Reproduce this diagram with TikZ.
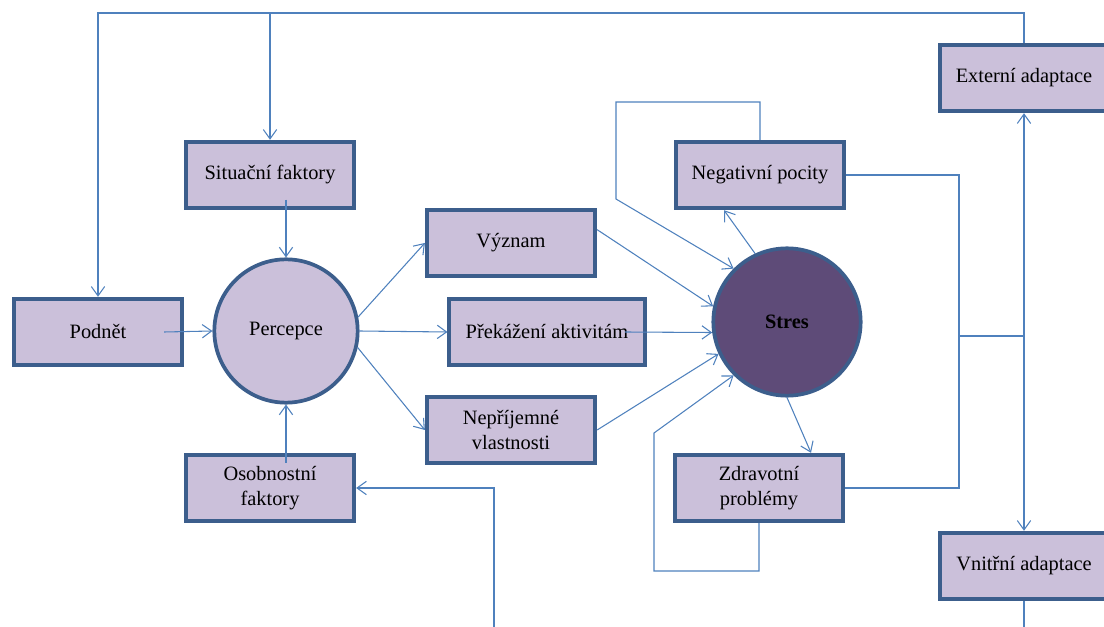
\documentclass[tikz,border=0pt]{standalone}
\usepackage{fontspec}
\setmainfont{Liberation Serif}
\usetikzlibrary{
    arrows.meta,
    calc,
    positioning
}
\definecolor{boxfill}{HTML}{CBC0DA}
\definecolor{boxline}{HTML}{3C5E8C}
\definecolor{conn}{HTML}{4F81BD}
\definecolor{stresfill}{HTML}{5E4B78}

\begin{document}
\begin{tikzpicture}[x=0.75pt, y=-0.75pt,
    >={Straight Barb[length=7pt,width=10pt]},
    box/.style={draw=boxline, line width=2.8pt, fill=boxfill,
        minimum width=126.4pt, minimum height=50pt, align=center,
        font=\fontsize{15.3}{18.8}\selectfont},
    kruh/.style={circle, draw=boxline, line width=2.8pt, fill=boxfill,
        minimum size=107.5pt, font=\fontsize{15.3}{18.8}\selectfont},
    spoj/.style={draw=conn, line width=0.8pt}]
    \useasboundingbox (0,0) rectangle (1104,627);

    % uzly
    \node[box] (podnet) at (98,332) {Podnět};
    \node[kruh] (perc) at (286,331) {Percepce};
    \node[box] (sit) at (270,175) {Situační faktory};
    \node[box] (osob) at (270,488) {Osobnostní\\faktory};
    \node[box] (vyz) at (511,243) {Význam};
    \node[box, minimum width=146.5pt] (prek) at (547,332) {Překážení aktivitám};
    \node[box] (nepr) at (511,430) {Nepříjemné\\vlastnosti};
    \node[kruh, fill=stresfill, minimum size=110.5pt,
        font=\fontsize{15.3}{18.8}\selectfont\bfseries] (stres) at (787,322) {Stres};
    \node[box] (neg) at (760,175) {Negativní pocity};
    \node[box] (zdrav) at (759,488) {Zdravotní\\problémy};
    \node[box] (ext) at (1024,78) {Externí adaptace};
    \node[box] (vnit) at (1024,566) {Vnitřní adaptace};

    \coordinate (tl) at (98,13);
    \coordinate (tm) at (270,13);
    \coordinate (nl1) at (616,102);
    \coordinate (nl2) at (616,199);
    \coordinate (zl1) at (654,571);
    \coordinate (zl2) at (654,433);
    \coordinate (jn) at (959,336);
    \coordinate (ad) at (1024,336);
    \coordinate (dn) at (494,650);

    % spojnice
    \draw[spoj, ->] (ext.north) |- (tl) -- (podnet.north);
    \draw[spoj, ->] (tm) -- (sit.north);
    \draw[spoj, ->] ([yshift=8pt]perc.north |- sit.south) -- (perc.north);
    \draw[spoj, ->] ([yshift=-7.5pt]perc.south |- osob.north) -- (perc.south);
    \draw[spoj, ->] ([xshift=-15pt]podnet.east) -- (perc.west);
    \draw[spoj, ->] (perc.11) -- (vyz.west);
    \draw[spoj, ->] (perc.east) -- (prek.west);
    \draw[spoj, ->] (perc.-13) -- (nepr.west);
    \draw[spoj, ->] ([yshift=10pt]vyz.east) -- (stres.168);
    \draw[spoj, ->] ([xshift=-16pt]prek.east) -- (stres.188);
    \draw[spoj, ->] (nepr.east) -- (stres.205);
    \draw[spoj, ->] (neg.north) |- (nl1) -- (nl2) -- (stres.135);
    \draw[spoj, ->] (zdrav.south) |- (zl1) -- (zl2) -- (stres.225);
    \draw[spoj, ->] (stres.115) -- ([xshift=-27pt]neg.south);
    \draw[spoj, ->] (stres.south) -- ([xshift=39pt]zdrav.north);
    \draw[spoj] (neg.east) -| (jn) |- (zdrav.east);
    \draw[spoj, line width=1.4pt] (jn) -- (ad);
    \draw[spoj, ->] (ad) -- (ext.south);
    \draw[spoj, ->] (ad) -- (vnit.north);
    \draw[spoj, ->] (vnit.south) |- (dn) |- (osob.east);
\end{tikzpicture}
\end{document}
